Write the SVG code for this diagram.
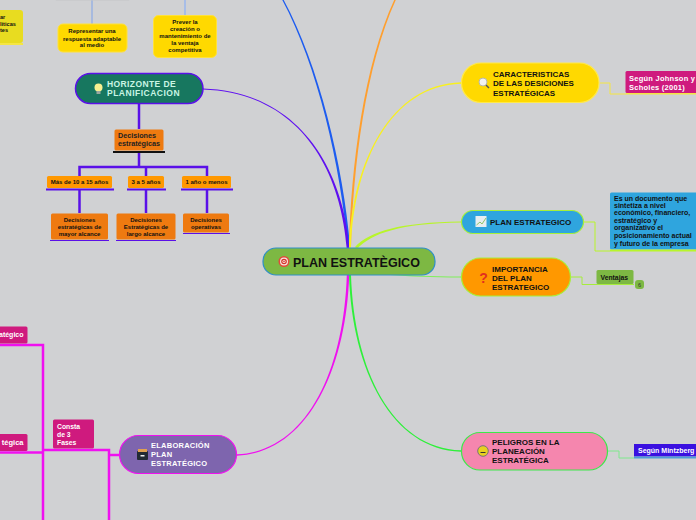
<svg xmlns="http://www.w3.org/2000/svg" width="696" height="520" viewBox="0 0 696 520">
<style>
text{font-family:"Liberation Sans",Arial,sans-serif;font-weight:700}
.c{fill:none}
.t8{font-size:8px;fill:#111}
.t6{font-size:6px;fill:#111;text-anchor:middle}
</style>
<rect width="696" height="520" fill="#d0d1d3"/>
<g id="connectors" class="c">
<path d="M347.700 248C340.700 165 317.200 65 282.300 0L283.700 0C318.800 65 343.300 165 350.300 248Z" fill="#1d5cf0"/>
<path d="M349 248C351 165 364 65 394.200 0L395.800 0C366 65 353 165 351 248Z" fill="#ff9f2e"/>
<path d="M349.300 248C343.300 170 300 91.500 203 88.500L203 89.500C300 92.500 340.700 170 346.700 248Z" fill="#5f10f0"/>
<path d="M349 248C352 160 392 84.300 461 82.300L461 83.700C392 85.700 354 160 351 248Z" fill="#f8f020"/>
<path d="M355 247C370 231 400 222.500 461 221.500L461 222.500C400 223.500 372 233 357 249Z" fill="#b8f52a"/>
<path d="M390 273.500C410 275.500 430 276.500 461 276.500V277.500C430 277.500 410 276.500 390 275Z" fill="#7ff05a"/>
<path d="M346.800 275C343.800 370 307 451.300 237 454.300L237 455.700C307 452.700 346.200 370 349.200 275Z" fill="#f010f0"/>
<path d="M349 275C352 370 392 449.700 461 451.700L461 450.300C392 448.300 354 370 351 275Z" fill="#2ef03a"/>
<path d="M600 83H610V94H626" stroke="#f5e642" stroke-width="1"/>
<path d="M584 222H595V251H696" stroke="#b8f52a" stroke-width="1"/>
<path d="M571 277H582V284.500H634" stroke="#a6ec3c" stroke-width="1"/>
<path d="M608 451H619V458H634" stroke="#7fe88c" stroke-width="1"/>
<path d="M92 0V24" stroke="#7fa3ea" stroke-width="1"/>
<path d="M185 0V15" stroke="#9ab6ee" stroke-width="1.500"/>
<g stroke="#5a10e8" stroke-width="2.500">
<path d="M139 104V129"/>
<path d="M139 152V167M79.500 176V167H207V176M146 167V176"/>
<path d="M79.500 190V213M146 190V213M207 190V213"/>
</g>
<g stroke="#f010f0" stroke-width="2.500">
<path d="M0 345H43V520"/>
<path d="M0 452.500H43"/>
<path d="M43 450H109V520"/>
<path d="M109 455H119"/>
</g>
</g>
<g id="node-top-left"><rect x="-8" y="10" width="31" height="33" rx="3" fill="#e8dc20"/><rect x="-8" y="43" width="31" height="2" fill="#f5e642"/>
<g font-size="5.600" fill="#111"><text x="0" y="19">ar</text><text x="0" y="25.500">líticas</text><text x="0" y="32">tes</text></g></g>
<g id="node-top-gray"><rect x="55" y="-6" width="75" height="6.500" rx="2" fill="#c4c5c7"/></g>
<g id="node-respuesta"><rect x="58" y="24" width="69" height="28" rx="5" fill="#ffd900" stroke="#ffe23a"/>
<text class="t6" x="92" y="33">Representar una</text><text class="t6" x="92" y="40.500">respuesta adaptable</text><text class="t6" x="92" y="47">al medio</text></g>
<g id="node-prever"><rect x="153.500" y="15.500" width="63" height="42" rx="5" fill="#ffd900" stroke="#ffe23a"/>
<text class="t6" x="185" y="24">Prever la</text><text class="t6" x="185" y="31">creación o</text><text class="t6" x="185" y="38">mantenimiento de</text><text class="t6" x="185" y="45">la ventaja</text><text class="t6" x="185" y="52">competitiva</text></g>
<g id="node-horizonte"><rect x="75.500" y="73.500" width="127.500" height="30" rx="15" fill="#17775f" stroke="#5a10e8" stroke-width="1.500"/>
<circle cx="98.500" cy="87.500" r="4" fill="#f8f090"/><rect x="96.500" y="91" width="4" height="3" fill="#9aa8a0"/>
<text x="107" y="86.500" font-size="8.500" fill="#c9f5e4" letter-spacing=".4">HORIZONTE DE</text><text x="107" y="96" font-size="8.500" fill="#c9f5e4" letter-spacing=".5">PLANIFICACION</text></g>
<g id="node-decisiones"><rect x="114.500" y="129.500" width="49" height="21" rx="1.500" fill="#ee7a10"/><rect x="113" y="151" width="52" height="2" fill="#111"/>
<text x="118" y="138" font-size="7.200" fill="#222">Decisiones</text><text x="118" y="146" font-size="7.200" fill="#222">estratégicas</text></g>
<g id="node-10-15"><rect x="47" y="176" width="65" height="12" rx="1.500" fill="#ff9800"/><rect x="46" y="188.500" width="68" height="2" fill="#5a10e8"/><text class="t6" x="79.500" y="184">Más de 10 a 15 años</text></g>
<g id="node-3-5"><rect x="128" y="176" width="36" height="12" rx="1.500" fill="#ff9800"/><rect x="127" y="188.500" width="39" height="2" fill="#5a10e8"/><text class="t6" x="146" y="184">3 a 5 años</text></g>
<g id="node-1"><rect x="182" y="176" width="49" height="12" rx="1.500" fill="#ff9800"/><rect x="181" y="188.500" width="52" height="2" fill="#5a10e8"/><text class="t6" x="206.500" y="184">1 año o menos</text></g>
<g id="node-mayor"><rect x="51" y="213.500" width="57" height="26" rx="1.500" fill="#ee7a10"/><rect x="50" y="240" width="59" height="1" fill="#5a10e8"/><text class="t6" x="79.500" y="221.500">Decisiones</text><text class="t6" x="79.500" y="228.500">estratégicas de</text><text class="t6" x="79.500" y="235.500">mayor alcance</text></g>
<g id="node-largo"><rect x="116.500" y="213.500" width="59" height="26" rx="1.500" fill="#ee7a10"/><rect x="116" y="240" width="60" height="1" fill="#5a10e8"/><text class="t6" x="146" y="221.500">Decisiones</text><text class="t6" x="146" y="228.500">Estratégicas de</text><text class="t6" x="146" y="235.500">largo alcance</text></g>
<g id="node-operativas"><rect x="183" y="213.500" width="46" height="19" rx="1.500" fill="#ee7a10"/><rect x="183" y="233" width="47" height="1" fill="#5a10e8"/><text class="t6" x="206" y="221.500">Decisiones</text><text class="t6" x="206" y="228.500">operativas</text></g>
<g id="node-central"><rect x="263" y="248" width="172" height="27" rx="13" fill="#7db843" stroke="#2f8fc8" stroke-width="1.200"/>
<circle cx="284" cy="261.500" r="5.500" fill="#e24a3c"/><circle cx="284" cy="261.500" r="4" fill="#f5e6e0"/><circle cx="284" cy="261.500" r="2.800" fill="#d8322a"/><circle cx="284" cy="261.500" r="1.600" fill="#f5e6e0"/><circle cx="284" cy="261.500" r=".8" fill="#d8322a"/>
<text x="293" y="266.500" font-size="12.500" fill="#111">PLAN ESTRATÈGICO</text></g>
<g id="node-caracteristicas"><rect x="461.500" y="63" width="137.500" height="39.500" rx="19.500" fill="#ffd900" stroke="#ffe94a" stroke-width="1.200"/>
<circle cx="483" cy="82" r="4" fill="#f2f2ee" stroke="#b8b8a8"/><path d="M486 85L489 88" stroke="#555" stroke-width="1.500"/>
<text class="t8" x="493" y="76.500">CARACTERISTICAS</text><text class="t8" x="493" y="86">DE LAS DESICIONES</text><text class="t8" x="493" y="95.500">ESTRATÉGICAS</text></g>
<g id="node-johnson"><rect x="625.500" y="71" width="75" height="22" rx="1.500" fill="#cf1a7e"/><rect x="626" y="93" width="70" height="1.500" fill="#f5e642"/>
<text x="629" y="81" font-size="7.500" fill="#fff" letter-spacing=".25">Según Johnson y</text><text x="629" y="89.500" font-size="7.500" fill="#fff" letter-spacing=".25">Scholes (2001)</text></g>
<g id="node-plan"><rect x="461.500" y="210.500" width="122" height="23" rx="11.500" fill="#2fa5de" stroke="#a6f03a" stroke-width="1.200"/>
<rect x="475.500" y="216" width="11" height="11" fill="#e8eef0"/><path d="M476.500 225L480 222L482 224L486 218" fill="none" stroke="#8fc46a"/>
<text x="490" y="225" font-size="8" fill="#111">PLAN ESTRATEGICO</text></g>
<g id="node-documento"><rect x="610" y="192.500" width="90" height="57" rx="1.500" fill="#2fa5de"/><rect x="610" y="249.500" width="86" height="1.500" fill="#b8f52a"/>
<g font-size="7" fill="#111"><text x="614" y="200.500">Es un documento que</text><text x="614" y="208">sintetiza a nivel</text><text x="614" y="215">económico, financiero,</text><text x="614" y="223">estratégico y</text><text x="614" y="230">organizativo el</text><text x="614" y="238">posicionamiento actual</text><text x="614" y="245.500">y futuro de la empresa</text></g></g>
<g id="node-importancia"><rect x="461.500" y="258" width="109" height="38" rx="19" fill="#ff9800" stroke="#a6f03a" stroke-width="1.200"/>
<text x="483.500" y="282.500" font-size="14" fill="#e2301f" text-anchor="middle">?</text>
<text class="t8" x="492" y="271.500">IMPORTANCIA</text><text class="t8" x="492" y="280.500">DEL PLAN</text><text class="t8" x="492" y="289.500">ESTRATEGICO</text></g>
<g id="node-ventajas"><rect x="596.500" y="270" width="37" height="14" rx="1.500" fill="#7db843"/><text x="600.500" y="280" font-size="6.800" fill="#111">Ventajas</text></g>
<g id="node-badge"><rect x="635" y="280" width="9" height="9" rx="3" fill="#7db843"/><text x="639.500" y="287" font-size="5.500" fill="#333" text-anchor="middle" style="font-weight:400">6</text></g>
<g id="node-elaboracion"><rect x="119.500" y="435.500" width="117" height="38" rx="19" fill="#7e65ae" stroke="#f010f0" stroke-width="1.200"/>
<rect x="137" y="451" width="11" height="9" rx="1" fill="#222a33"/><rect x="138" y="449" width="9" height="3" fill="#e0a050"/><rect x="140.500" y="455" width="4" height="1.500" fill="#eee"/>
<text x="151" y="448" font-size="7.500" fill="#fff" letter-spacing=".25">ELABORACIÓN</text><text x="151" y="457" font-size="7.500" fill="#fff" letter-spacing=".25">PLAN</text><text x="151" y="466" font-size="7.500" fill="#fff" letter-spacing=".25">ESTRATÉGICO</text></g>
<g id="node-consta"><rect x="53" y="419.500" width="41" height="29" rx="1.500" fill="#cf1a7e"/><text x="57" y="428.500" font-size="6.800" fill="#fff">Consta</text><text x="57" y="436.500" font-size="6.800" fill="#fff">de 3</text><text x="57" y="444.500" font-size="6.800" fill="#fff">Fases</text></g>
<g id="node-fase1"><rect x="-30" y="326.500" width="57.500" height="17" rx="1.500" fill="#cf1a7e"/><text x="23.500" y="337" font-size="7" fill="#fff" text-anchor="end">atégico</text></g>
<g id="node-fase2"><rect x="-30" y="434" width="57.500" height="17" rx="1.500" fill="#cf1a7e"/><text x="23.500" y="445" font-size="7.500" fill="#fff" text-anchor="end">tégica</text></g>
<g id="node-peligros"><rect x="461.500" y="432.500" width="146" height="37.500" rx="18.500" fill="#f586ae" stroke="#3de84a" stroke-width="1.200"/>
<circle cx="483" cy="451" r="5.300" fill="#e8d020" stroke="#777"/><path d="M480.500 452.500H485.500" stroke="#333"/>
<text class="t8" x="492" y="445">PELIGROS EN LA</text><text class="t8" x="492" y="454">PLANEACIÓN</text><text class="t8" x="492" y="463">ESTRATÉGICA</text></g>
<g id="node-mintzberg"><rect x="634" y="444" width="66" height="12.500" fill="#3a10e0"/><rect x="634" y="456.500" width="62" height="2" fill="#4f9bd8"/><text x="638" y="453" font-size="7" fill="#fff">Según Mintzberg</text></g>
</svg>
